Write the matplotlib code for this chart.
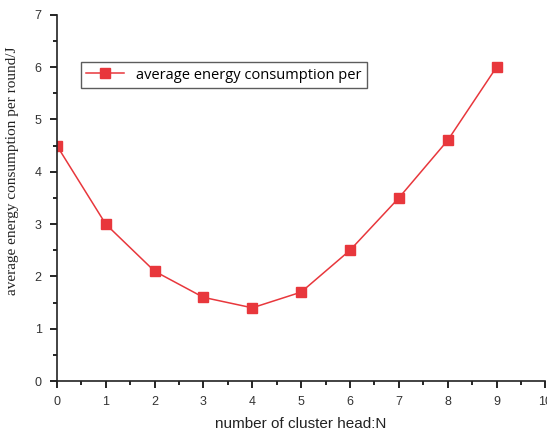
import matplotlib
matplotlib.use('Agg')
import matplotlib.pyplot as plt
from matplotlib.ticker import MultipleLocator

# data
heads = [0, 1, 2, 3, 4, 5, 6, 7, 8, 9]
energy = [4.5, 3.0, 2.1, 1.6, 1.4, 1.7, 2.5, 3.5, 4.6, 6.0]

red = '#e8373c'

fig = plt.figure(figsize=(5.47, 4.37), dpi=100)
ax = fig.add_axes([0.104, 0.128, 0.893, 0.838])

ax.plot(heads, energy, color=red, lw=1.1, marker='s', markersize=6.5,
        markeredgecolor=red, markerfacecolor=red,
        label='average energy consumption per')

ax.set_xlim(0, 10)
ax.set_ylim(0, 7)
ax.xaxis.set_major_locator(MultipleLocator(1))
ax.xaxis.set_minor_locator(MultipleLocator(0.5))
ax.yaxis.set_major_locator(MultipleLocator(1))
ax.yaxis.set_minor_locator(MultipleLocator(0.5))

for s in ['top', 'right']:
    ax.spines[s].set_visible(False)
for s in ['left', 'bottom']:
    ax.spines[s].set_linewidth(1.2)
    ax.spines[s].set_color('#222222')

ax.tick_params(which='major', direction='out', length=5, width=1.2,
               labelsize=9, labelcolor='#333333', pad=6)
ax.tick_params(which='minor', direction='out', length=3, width=1.2)
for lab in ax.get_xticklabels() + ax.get_yticklabels():
    lab.set_family('Liberation Sans')

ax.set_xlabel('number of cluster head:N', fontsize=11, family='Liberation Sans',
              color='#222222', labelpad=6)
ax.set_ylabel('average energy consumption per round/J', fontsize=11,
              family='Liberation Serif', color='#222222')
ax.yaxis.set_label_coords(-0.078, 0.575)

leg = ax.legend(loc='upper left', bbox_to_anchor=(0.05, 0.87), frameon=True,
                fancybox=False, edgecolor='#333333',
                handlelength=2.6, borderpad=0.35, borderaxespad=0,
                prop={'family': 'Open Sans', 'size': 10.5})
leg.get_frame().set_linewidth(1.0)

fig.savefig('out.png', dpi=100)
